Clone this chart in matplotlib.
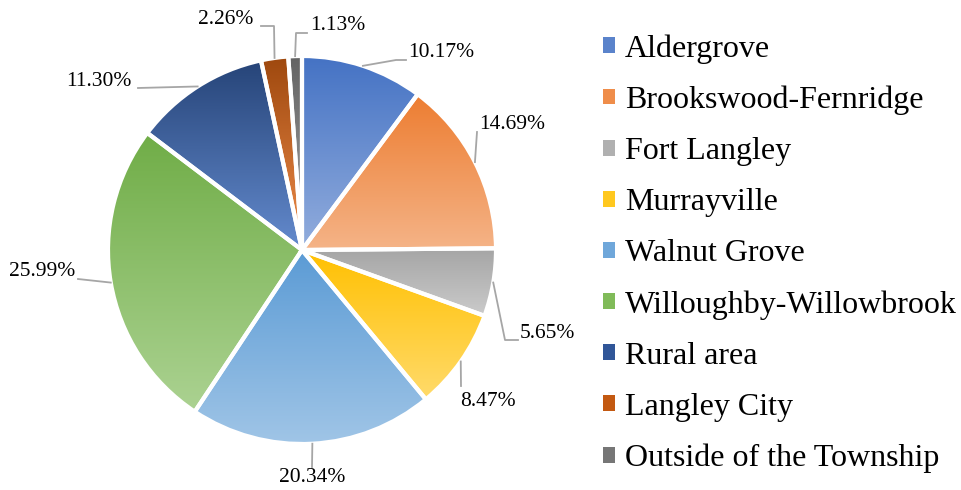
import numpy as np
import colorsys
import matplotlib
matplotlib.use("Agg")
import matplotlib.pyplot as plt
from matplotlib.colors import to_rgb
from matplotlib.patches import Patch

categories = ["Aldergrove", "Brookswood-Fernridge", "Fort Langley", "Murrayville",
              "Walnut Grove", "Willoughby-Willowbrook", "Rural area", "Langley City",
              "Outside of the Township"]
values = [10.17, 14.69, 5.65, 8.47, 20.34, 25.99, 11.30, 2.26, 1.13]
colors = ["#4472C4", "#ED7D31", "#A5A5A5", "#FFC000", "#5B9BD5", "#70AD47",
          "#264478", "#9E480E", "#636363"]
pct_labels = [f"{v:.2f}%" for v in values]

W, H = 961, 490
CX, CY, R = 302, 250, 194  # pie centre / radius in pixels


def px(x, y):
    return ((x - CX) / R, (CY - y) / R)


def lighten(c, f):
    r, g, b = to_rgb(c)
    h, l, s = colorsys.rgb_to_hls(r, g, b)
    l = l + (1 - l) * f
    return np.array(colorsys.hls_to_rgb(h, l, s))


# label layout (pixels): text centre, elbow points
label_layout = [
    ((441, 53), [(396, 60), (406, 60)]),
    ((512, 125), [(477, 132)]),
    ((547, 334), [(505, 340), (518, 340)]),
    ((488, 401), [(461, 386)]),
    ((312, 478), [(312, 467)]),
    ((42, 272), [(78, 279)]),
    ((99, 82), [(138, 88)]),
    ((226, 20), [(274, 26), (261, 26)]),
    ((338, 26), [(296, 33), (307, 33)]),
]

plt.rcParams['font.family'] = ['Liberation Serif', 'DejaVu Serif']
fig = plt.figure(figsize=(W / 100, H / 100), dpi=100)
ax = fig.add_axes([0, 0, 1, 1])

wedges, _ = ax.pie(values, startangle=90, counterclock=False, radius=1,
                   wedgeprops=dict(edgecolor='white', linewidth=3))

for w, c in zip(wedges, colors):
    base = np.array(to_rgb(c))
    light = lighten(c, 0.42)
    t = np.linspace(0, 1, 256)[:, None]
    grad = base[None, :] * (1 - t) + light[None, :] * t
    img = np.repeat(grad[:, None, :], 2, axis=1)
    ext = w.get_path().get_extents()
    im = ax.imshow(img, extent=[ext.x0, ext.x1, ext.y0, ext.y1], origin='upper',
                   aspect='auto', interpolation='bilinear', zorder=1)
    im.set_clip_path(w)
    w.set_facecolor('none')
    w.set_zorder(2)

cum = 0.0
total = sum(values)
for v, lab, (tpos, elbows) in zip(values, pct_labels, label_layout):
    mid = 90 - (cum + v / 2) / total * 360
    cum += v
    ang = np.deg2rad(mid)
    pts = [(np.cos(ang), np.sin(ang))] + [px(*e) for e in elbows]
    xs, ys = zip(*pts)
    ax.plot(xs, ys, color='#A6A6A6', lw=1.3, zorder=3, clip_on=False)
    tx, ty = px(*tpos)
    ax.text(tx, ty, lab, ha='center', va='center', fontsize=15.5, color='#000000',
            zorder=4)

ax.set_xlim(-CX / R, (W - CX) / R)
ax.set_ylim(-(H - CY) / R, CY / R)
ax.set_aspect('auto')
ax.axis('off')

handles = [Patch(facecolor=lighten(c, 0.12), edgecolor='none') for c in colors]
fig.legend(handles, categories, loc='upper left', bbox_to_anchor=(603 / W, 1 - 34 / H),
           frameon=False, fontsize=23, handlelength=0.38, handleheight=0.38,
           handletextpad=0.31, labelspacing=0.69, borderaxespad=0, borderpad=0)

fig.savefig('out.png', dpi=100)
